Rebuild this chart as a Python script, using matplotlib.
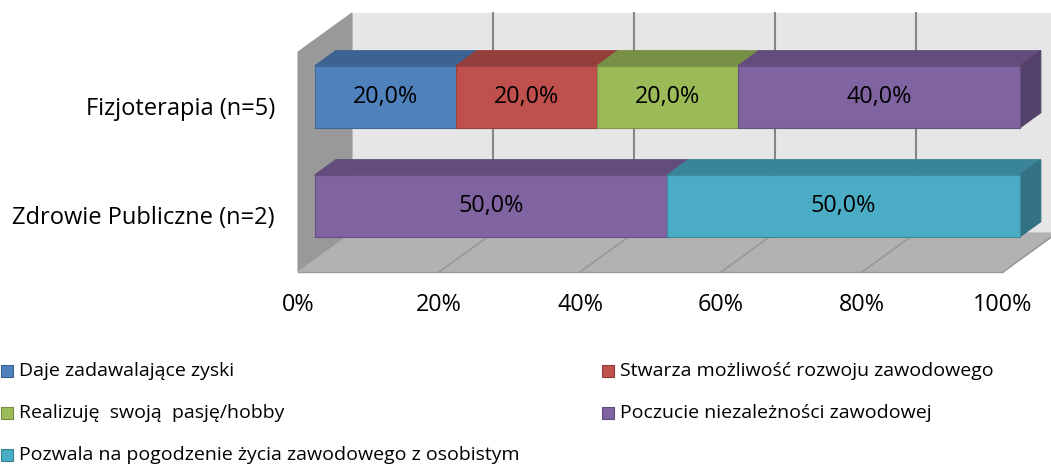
import numpy as np
import matplotlib.pyplot as plt
from matplotlib.patches import Polygon, Rectangle
from matplotlib.colors import to_rgb

plt.rcParams['font.family'] = ['Open Sans', 'DejaVu Sans']

categories = ["Fizjoterapia (n=5)", "Zdrowie Publiczne (n=2)"]
series = ["Daje zadawalające zyski",
          "Stwarza możliwość rozwoju zawodowego",
          "Realizuję  swoją  pasję/hobby",
          "Poczucie niezależności zawodowej",
          "Pozwala na pogodzenie życia zawodowego z osobistym"]
fizjoterapia = [20.0, 20.0, 20.0, 40.0, 0.0]
zdrowie_publiczne = [0.0, 0.0, 0.0, 50.0, 50.0]
ticks = [0, 20, 40, 60, 80, 100]
colors = ["#4F81BD", "#C0504D", "#9BBB59", "#8064A2", "#4BACC6"]

W, H = 1051, 471
X0 = 298            # pixel of 0% on the front plane
PX = 7.05           # pixels per percent
DX = 54 / PX        # depth shift in percent units
DY = 39             # depth shift in pixels
TOP, BOTTOM = 52, 272
D_FRONT, D_BACK = 0.31, 0.70
BAR_H = 62
centers = [109, 218]


def proj(v, y, d):
    return (v + d * DX, y - d * DY)


def shade(c, k):
    r, g, b = to_rgb(c)
    return (r * k, g * k, b * k)


def face(ax, pts, fc, ec=None, lw=0.8, z=1):
    ax.add_patch(Polygon([proj(*p) for p in pts], closed=True, facecolor=fc,
                         edgecolor=ec if ec else fc, lw=lw, zorder=z,
                         joinstyle='miter'))


fig = plt.figure(figsize=(W / 100, H / 100), dpi=100)
ax = fig.add_axes([0, 0, 1, 1])
ax.set_xlim(-X0 / PX, (W - X0) / PX)
ax.set_ylim(H, 0)
ax.axis('off')

# walls and floor
face(ax, [(0, TOP, 1), (110, TOP, 1), (110, BOTTOM, 1), (0, BOTTOM, 1)], "#E6E6E6", z=0)
face(ax, [(0, TOP, 0), (0, TOP, 1), (0, BOTTOM, 1), (0, BOTTOM, 0)], "#999999", z=0)
face(ax, [(0, BOTTOM, 0), (100, BOTTOM, 0), (100, BOTTOM, 1), (0, BOTTOM, 1)], "#B2B2B2", z=0)

# gridlines on back wall and floor
for t in ticks[1:]:
    x1, y1 = proj(t, TOP, 1)
    x2, y2 = proj(t, BOTTOM, 1)
    ax.plot([x1, x2], [y1, y2], color="#868686", lw=1.5, zorder=0.5)
    x3, y3 = proj(t, BOTTOM, 0)
    ax.plot([x2, x3], [y2, y3], color="#949494", lw=1, zorder=0.5)
x1, y1 = proj(0, BOTTOM, 0)
x2, y2 = proj(100, BOTTOM, 0)
ax.plot([x1, x2], [y1, y2], color="#9A9A9A", lw=1, zorder=0.6)

# stacked 3d bars
for c, vals, name in zip(centers, [fizjoterapia, zdrowie_publiczne], categories):
    top, bot = c - BAR_H / 2, c + BAR_H / 2
    left = 0.0
    last = max(i for i, v in enumerate(vals) if v > 0)
    for i, v in enumerate(vals):
        if v <= 0:
            continue
        a, b = left, left + v
        col = colors[i]
        face(ax, [(a, top, D_FRONT), (b, top, D_FRONT), (b, top, D_BACK), (a, top, D_BACK)],
             shade(col, 0.77), z=2)
        if i == last:
            face(ax, [(b, top, D_FRONT), (b, top, D_BACK), (b, bot, D_BACK), (b, bot, D_FRONT)],
                 shade(col, 0.66), z=2)
        face(ax, [(a, top, D_FRONT), (b, top, D_FRONT), (b, bot, D_FRONT), (a, bot, D_FRONT)],
             col, ec=shade(col, 0.8), z=3)
        tx, ty = proj((a + b) / 2, c, D_FRONT)
        ax.text(tx, ty, f"{v:.1f}".replace(".", ",") + "%", ha='center', va='center',
                fontsize=16.8, color="black", zorder=4)
        left = b
    ax.text(-23 / PX, c, name, ha='right', va='center', fontsize=17)

# axis tick labels
for t in ticks:
    ax.text(t, 305, f"{t}%", ha='center', va='center', fontsize=16.8)

# legend
legend_pos = [(1, 371), (602, 371), (1, 413), (602, 413), (1, 455)]
for (lx, ly), name, col in zip(legend_pos, series, colors):
    x = (lx - X0) / PX
    ax.add_patch(Rectangle((x, ly - 6), 12 / PX, 12, facecolor=col,
                           edgecolor=shade(col, 0.75), lw=0.8))
    ax.text(x + 18 / PX, ly, name, ha='left', va='center', fontsize=14)

fig.savefig("out.png", dpi=100)
